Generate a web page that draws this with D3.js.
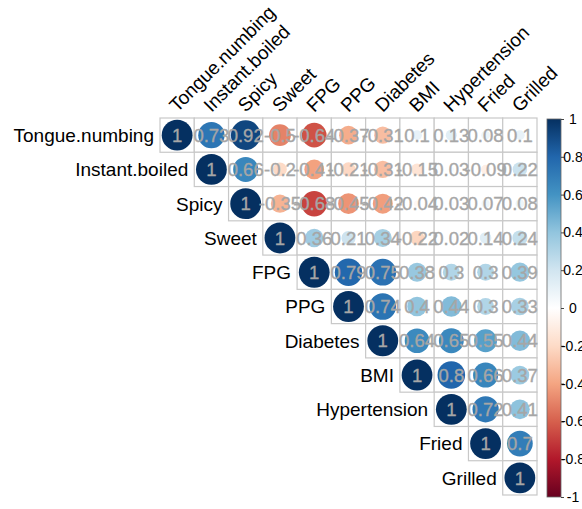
<!DOCTYPE html>
<html>
<head>
<meta charset="utf-8">
<script src="https://cdn.jsdelivr.net/npm/d3@7"></script>
<style>
  html, body { margin: 0; padding: 0; background: #fff; }
  svg { display: block; }
  text { font-family: "Liberation Sans", Arial, sans-serif; }
</style>
</head>
<body>
<svg id="chart" width="582" height="509"></svg>
<script>
// Variables, in plot order
const variables = ["Tongue.numbing", "Instant.boiled", "Spicy", "Sweet", "FPG", "PPG",
                   "Diabetes", "BMI", "Hypertension", "Fried", "Grilled"];

// Upper-triangle correlation rows (each row starts at the diagonal)
const rowTongue       = [1, 0.73, 0.92, -0.5, -0.64, -0.37, -0.31, 0.1, 0.13, 0.08, 0.1];
const rowInstant      = [1, 0.66, -0.2, -0.41, -0.21, -0.31, -0.15, 0.03, -0.09, 0.22];
const rowSpicy        = [1, -0.35, -0.68, -0.45, -0.42, -0.04, 0.03, 0.07, 0.08];
const rowSweet        = [1, 0.36, 0.21, 0.34, -0.22, 0.02, 0.14, 0.24];
const rowFPG          = [1, 0.79, 0.75, 0.38, 0.3, 0.3, 0.39];
const rowPPG          = [1, 0.74, 0.4, 0.44, 0.3, 0.33];
const rowDiabetes     = [1, 0.64, 0.65, 0.55, 0.44];
const rowBMI          = [1, 0.8, 0.66, 0.37];
const rowHypertension = [1, 0.72, 0.41];
const rowFried        = [1, 0.7];
const rowGrilled      = [1];

const rows = [rowTongue, rowInstant, rowSpicy, rowSweet, rowFPG, rowPPG,
              rowDiabetes, rowBMI, rowHypertension, rowFried, rowGrilled];

// Colour-legend tick labels
const legendTicks = [1, 0.8, 0.6, 0.4, 0.2, 0, -0.2, -0.4, -0.6, -0.8, -1];

// RdBu diverging palette anchors
const paletteStops = ["#67001F", "#B2182B", "#D6604D", "#F4A582", "#FDDBC7", "#FFFFFF",
                      "#D1E5F0", "#92C5DE", "#4393C3", "#2166AC", "#053061"];

// Flatten into cells
const cells = [];
rows.forEach((vals, i) => {
  vals.forEach((v, k) => {
    cells.push({ row: variables[i], col: variables[i + k], value: v });
  });
});

const svg = d3.select("#chart");

const gridLeft = 160, gridTop = 118, gridSize = 377;
const x = d3.scaleBand().domain(variables).range([gridLeft, gridLeft + gridSize]);
const y = d3.scaleBand().domain(variables).range([gridTop, gridTop + gridSize]);
const cw = x.bandwidth();

const color = d3.scaleLinear()
  .domain(d3.range(paletteStops.length).map(i => -1 + 2 * i / (paletteStops.length - 1)))
  .range(paletteStops)
  .interpolate(d3.interpolateRgb);

// circle radius: area proportional to |r|
const radius = d3.scaleSqrt().domain([0, 1]).range([0, cw * 0.45]);

const fmt = v => String(+v.toFixed(2));

// cell backgrounds with grid border
svg.append("g")
  .selectAll("rect")
  .data(cells)
  .join("rect")
  .attr("x", d => x(d.col))
  .attr("y", d => y(d.row))
  .attr("width", cw)
  .attr("height", cw)
  .attr("fill", "#fff")
  .attr("stroke", "#C8C8C8")
  .attr("stroke-width", 1.2);

// circles
svg.append("g")
  .selectAll("circle")
  .data(cells)
  .join("circle")
  .attr("cx", d => x(d.col) + cw / 2)
  .attr("cy", d => y(d.row) + cw / 2)
  .attr("r", d => radius(Math.abs(d.value)))
  .attr("fill", d => color(d.value));

// coefficient labels
svg.append("g")
  .selectAll("text")
  .data(cells)
  .join("text")
  .attr("x", d => x(d.col) + cw / 2)
  .attr("y", d => y(d.row) + cw / 2)
  .attr("dy", "0.36em")
  .attr("text-anchor", "middle")
  .attr("font-size", 18.5)
  .attr("fill", "#A6A6A6")
  .attr("stroke", "#A6A6A6")
  .attr("stroke-width", 0.35)
  .text(d => fmt(d.value));

// row labels, right-aligned to the left of each diagonal cell
svg.append("g")
  .selectAll("text")
  .data(variables)
  .join("text")
  .attr("x", d => x(d) - 6)
  .attr("y", d => y(d) + cw / 2)
  .attr("dy", "0.36em")
  .attr("text-anchor", "end")
  .attr("font-size", 19)
  .attr("fill", "#000")
  .text(d => d);

// column labels, rotated 45 degrees above the grid
svg.append("g")
  .selectAll("text")
  .data(variables)
  .join("text")
  .attr("transform", d => `translate(${x(d) + cw / 2},${gridTop - 5}) rotate(-45)`)
  .attr("text-anchor", "start")
  .attr("font-size", 19)
  .attr("fill", "#000")
  .text(d => d);

// colour legend
const legX = 547, legW = 14;
const ly = d3.scaleLinear().domain([1, -1]).range([gridTop + 1, gridTop + gridSize + 2]);

const defs = svg.append("defs");
const grad = defs.append("linearGradient")
  .attr("id", "legendGrad")
  .attr("x1", 0).attr("y1", 1).attr("x2", 0).attr("y2", 0);
paletteStops.forEach((c, i) => {
  grad.append("stop")
    .attr("offset", (i / (paletteStops.length - 1) * 100) + "%")
    .attr("stop-color", c);
});

svg.append("rect")
  .attr("x", legX)
  .attr("y", ly(1))
  .attr("width", legW)
  .attr("height", ly(-1) - ly(1))
  .attr("fill", "url(#legendGrad)")
  .attr("stroke", "#666")
  .attr("stroke-width", 0.8);

const legAxis = d3.axisRight(ly)
  .tickValues(legendTicks)
  .tickSize(3)
  .tickFormat(d => fmt(d));

const legG = svg.append("g")
  .attr("transform", `translate(${legX + legW},0)`)
  .call(legAxis);
legG.select(".domain").remove();
legG.selectAll(".tick line").attr("stroke", "#444");
legG.selectAll(".tick text")
  .attr("x", 12)
  .attr("text-anchor", "middle")
  .attr("font-size", 14)
  .attr("font-family", "'Liberation Sans', Arial, sans-serif")
  .attr("fill", "#000");
</script>
</body>
</html>
